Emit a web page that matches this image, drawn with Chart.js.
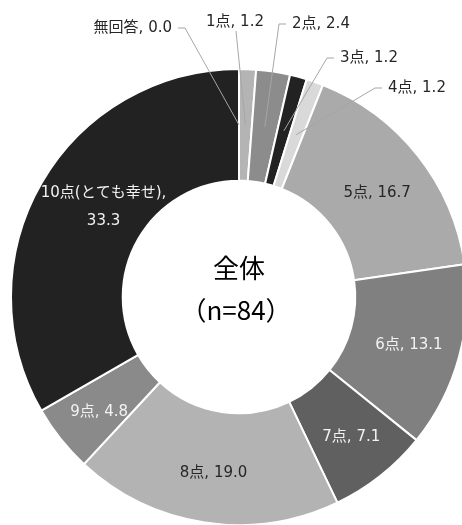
<!DOCTYPE html>
<html>
  <head>
    <meta charset="utf-8">
    <title>全体 満足度</title>
    <script src="https://cdn.jsdelivr.net/npm/chart.js@4.4.0/dist/chart.umd.min.js"></script>
    <style>
        body { margin: 0; overflow: hidden; background: #fff; }
        #wrap { position: absolute; left: 0; top: 0; width: 480px; height: 525px; }
    </style>
  </head>
  <body>
    <div id="wrap"><canvas id="donut"></canvas></div>
    <script>
      // data
      var categories = ["無回答", "1点", "2点", "3点", "4点", "5点", "6点", "7点", "8点", "9点", "10点(とても幸せ)"];
      var values = [0.0, 1.2, 2.4, 1.2, 1.2, 16.7, 13.1, 7.1, 19.0, 4.8, 33.3];
      var centerTitle = "全体";
      var centerSub = "（n=84）";

      // styles
      var fills = ["#a6a6a6", "#b4b4b4", "#8c8c8c", "#222222", "#d9d9d9", "#aaaaaa",
                   "#808080", "#606060", "#b3b3b3", "#8a8a8a", "#222222"];
      var textColors = ["#262626", "#262626", "#262626", "#262626", "#262626", "#262626",
                        "#f2f2f2", "#f2f2f2", "#262626", "#f2f2f2", "#f2f2f2"];
      // small slices get labels outside, offset from the chart centre
      var outside = {
        0: { dx: -67, dy: -269, align: "right" },
        1: { dx: -4, dy: -275, align: "center" },
        2: { dx: 53, dy: -273, align: "left" },
        3: { dx: 101, dy: -239, align: "left" },
        4: { dx: 149, dy: -209, align: "left" }
      };
      // small nudges for labels drawn inside the ring
      var nudge = {
        5: { dx: 0, dy: 5 },
        6: { dx: 0, dy: 2 },
        7: { dx: 3, dy: 2 },
        8: { dx: 1, dy: 2 },
        9: { dx: -2, dy: 5 },
        10: { dx: 17, dy: -2 }
      };
      var labelFont = '15px "DejaVu Sans", "Noto Sans CJK JP", sans-serif';

      var labelPlugin = {
        id: "sliceLabels",
        afterDraw: function(chart) {
          var ctx = chart.ctx;
          var arcs = chart.getDatasetMeta(0).data;
          ctx.save();
          ctx.font = labelFont;
          ctx.textBaseline = "middle";
          arcs.forEach(function(arc, i) {
            var p = arc.getProps(["x", "y", "startAngle", "endAngle", "innerRadius", "outerRadius"], true);
            var mid = (p.startAngle + p.endAngle) / 2;
            var rMid = (p.innerRadius + p.outerRadius) / 2;
            var val = values[i].toFixed(1);
            if (outside[i]) {
              var o = outside[i];
              var tx = p.x + o.dx, ty = p.y + o.dy;
              var text = categories[i] + ", " + val;
              var ax = p.x + Math.cos(mid) * rMid, ay = p.y + Math.sin(mid) * rMid;
              ctx.strokeStyle = "#a6a6a6";
              ctx.lineWidth = 1;
              ctx.beginPath();
              if (o.align === "right") {
                ctx.moveTo(tx + 6, ty);
                ctx.lineTo(tx + 13, ty);
                ctx.lineTo(ax, ay);
              } else if (o.align === "left") {
                ctx.moveTo(tx - 6, ty);
                ctx.lineTo(tx - 13, ty);
                ctx.lineTo(ax, ay);
              } else {
                ctx.moveTo(tx + 1, ty + 9);
                ctx.lineTo(ax, ay);
              }
              ctx.stroke();
              ctx.fillStyle = "#262626";
              ctx.textAlign = o.align;
              ctx.fillText(text, tx, ty);
            } else {
              var r = rMid + 4;
              var n = nudge[i] || { dx: 0, dy: 0 };
              var cx = p.x + Math.cos(mid) * r + n.dx, cy = p.y + Math.sin(mid) * r + n.dy;
              ctx.fillStyle = textColors[i];
              ctx.textAlign = "center";
              if (categories[i].length > 4) {
                ctx.fillText(categories[i] + ",", cx, cy - 14);
                ctx.fillText(val, cx, cy + 14);
              } else {
                ctx.fillText(categories[i] + ", " + val, cx, cy);
              }
            }
          });
          // centre caption
          var c = arcs[0];
          ctx.fillStyle = "#000";
          ctx.textAlign = "center";
          ctx.font = '26px "Noto Sans CJK JP", sans-serif';
          ctx.fillText(centerTitle, c.x, c.y - 29);
          ctx.fillText(centerSub, c.x - 3, c.y + 13);
          ctx.restore();
        }
      };

      var ctx = document.getElementById("donut").getContext("2d");
      var donut = new Chart(ctx, {
        type: "doughnut",
        data: {
          labels: categories,
          datasets: [{
            data: values,
            backgroundColor: fills,
            borderColor: "#ffffff",
            borderWidth: 2
          }]
        },
        options: {
          responsive: true,
          maintainAspectRatio: false,
          animation: false,
          radius: 228,
          cutout: "51%",
          layout: { padding: { left: 11, right: 13, top: 69, bottom: 0 } },
          plugins: {
            legend: { display: false },
            tooltip: { enabled: false }
          }
        },
        plugins: [labelPlugin]
      });
    </script>
  </body>
</html>
